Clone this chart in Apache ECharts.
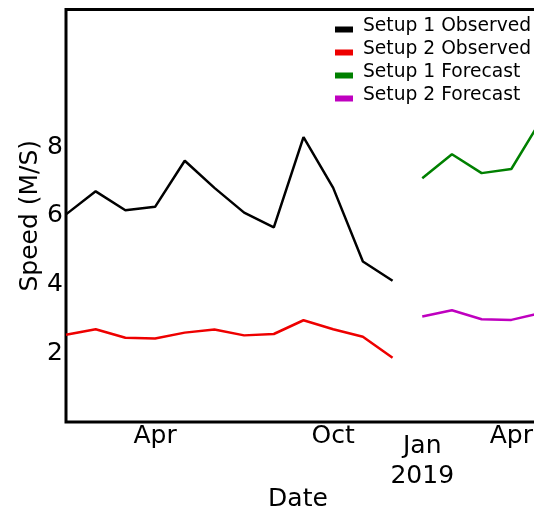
<!DOCTYPE html>
<html>
<head>
<meta charset="utf-8">
<script src="https://cdn.jsdelivr.net/npm/echarts@6/dist/echarts.min.js"></script>
<style>
  html, body { margin: 0; padding: 0; background: #fff; overflow: hidden; }
  #chart { width: 560px; height: 511px; }
</style>
</head>
<body>
<div id="chart"></div>
<script>
// months Jan 2018 .. May 2019
const months = ["2018-01", "2018-02", "2018-03", "2018-04", "2018-05", "2018-06",
  "2018-07", "2018-08", "2018-09", "2018-10", "2018-11", "2018-12",
  "2019-01", "2019-02", "2019-03", "2019-04", "2019-05"];
const tickLabels = ["", "", "", "Apr", "", "", "", "", "", "Oct", "", "", "Jan\n2019", "", "", "Apr", ""];
const yTicks = [2, 4, 6, 8];

const setup1Observed = [6.04, 6.71, 6.16, 6.26, 7.60, 6.81, 6.09, 5.66, 8.29, 6.81, 4.67, 4.11,
  null, null, null, null, null];
const setup2Observed = [2.54, 2.70, 2.45, 2.43, 2.60, 2.69, 2.52, 2.56, 2.96, 2.70, 2.48, 1.87,
  null, null, null, null, null];
const setup1Forecast = [null, null, null, null, null, null, null, null, null, null, null, null,
  7.09, 7.79, 7.24, 7.36, 8.78];
const setup2Forecast = [null, null, null, null, null, null, null, null, null, null, null, null,
  3.07, 3.25, 2.99, 2.97, 3.17];

const font = "DejaVu Sans";
const chart = echarts.init(document.getElementById("chart"));

function lineSeries(name, data, color) {
  return {
    name: name,
    type: "line",
    data: data,
    showSymbol: false,
    connectNulls: false,
    lineStyle: { color: color, width: 2.5 },
    itemStyle: { color: color },
  };
}

chart.setOption({
  animation: false,
  backgroundColor: "#fff",
  textStyle: { fontFamily: font, color: "#000" },
  grid: {
    left: 66,
    right: 19,
    top: 9.5,
    bottom: 89,
    outerBoundsMode: "none",
    containLabel: false,
    show: true,
    borderColor: "#000",
    borderWidth: 3,
  },
  legend: {
    orient: "vertical",
    left: 335,
    top: 17,
    padding: 0,
    itemGap: -2,
    itemWidth: 18,
    itemHeight: 6,
    icon: "rect",
    formatter: (name) => "{t|" + name + "}",
    textStyle: {
      fontFamily: font,
      fontSize: 18.7,
      color: "#000",
      rich: {
        t: { fontFamily: font, fontSize: 18.7, lineHeight: 18, color: "#000", padding: [0, 0, 6, 5] },
      },
    },
    data: ["Setup 1 Observed", "Setup 2 Observed", "Setup 1 Forecast", "Setup 2 Forecast"],
  },
  xAxis: {
    type: "category",
    data: months,
    boundaryGap: false,
    name: "Date",
    nameLocation: "middle",
    nameGap: 65,
    nameMoveOverlap: false,
    nameTextStyle: { fontFamily: font, fontSize: 25, color: "#000", padding: [0, 11, 0, 0] },
    axisLine: { show: false },
    axisTick: { show: false },
    splitLine: { show: false },
    axisLabel: {
      interval: 0,
      margin: 0,
      fontFamily: font,
      fontSize: 25,
      lineHeight: 28,
      color: "#000",
      formatter: (v, i) => {
        const t = tickLabels[i];
        if (t.indexOf("\n") >= 0) {
          const parts = t.split("\n");
          return "{j|" + parts[0] + "}\n{k|" + parts[1] + "}";
        }
        return t;
      },
      rich: {
        j: { fontFamily: font, fontSize: 25, lineHeight: 48, color: "#000" },
        k: { fontFamily: font, fontSize: 25, lineHeight: 12, color: "#000" },
      },
    },
  },
  yAxis: {
    type: "value",
    min: 0,
    max: 12,
    interval: 2,
    name: "Speed (M/S)",
    nameLocation: "middle",
    nameGap: 23,
    nameMoveOverlap: false,
    nameTextStyle: { fontFamily: font, fontSize: 25, color: "#000" },
    axisLine: { show: false },
    axisTick: { show: false },
    splitLine: { show: false },
    axisLabel: {
      margin: 3,
      fontFamily: font,
      fontSize: 25,
      color: "#000",
      formatter: (v) => (yTicks.indexOf(v) >= 0 ? String(v) : ""),
    },
  },
  series: [
    lineSeries("Setup 1 Observed", setup1Observed, "#000000"),
    lineSeries("Setup 2 Observed", setup2Observed, "#ee0000"),
    lineSeries("Setup 1 Forecast", setup1Forecast, "#008000"),
    lineSeries("Setup 2 Forecast", setup2Forecast, "#bf00bf"),
  ],
});
</script>
</body>
</html>
